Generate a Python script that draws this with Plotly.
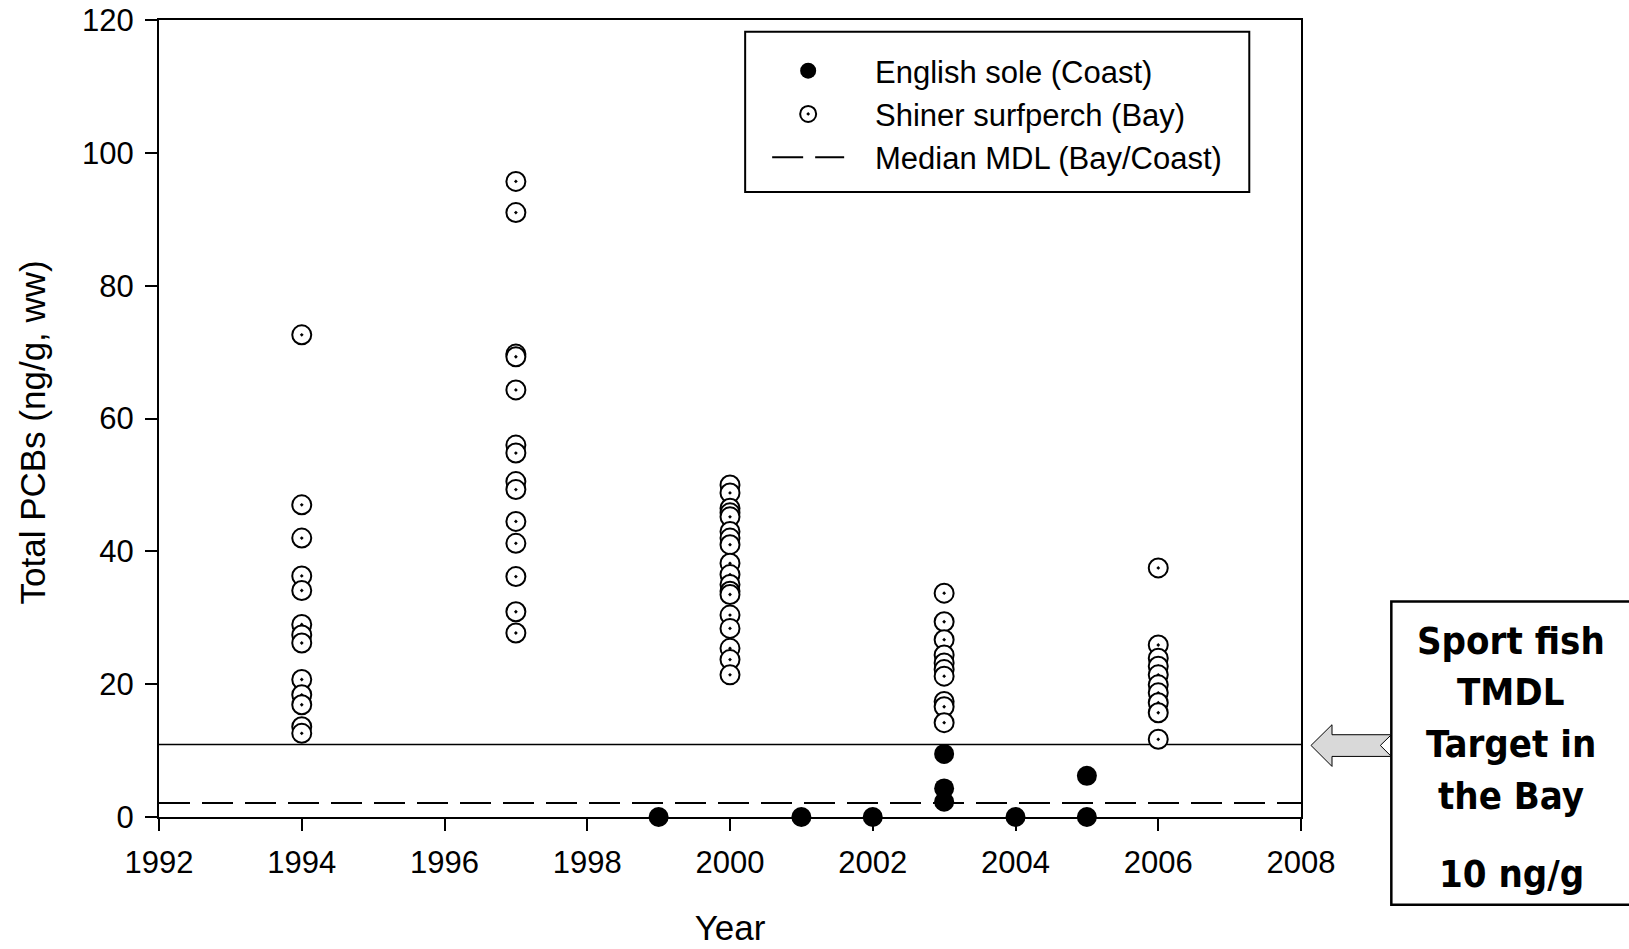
import plotly.graph_objects as go

# ---------------- data ----------------
bay_years = [1994, 1997, 2000, 2003, 2006]
bay_1994 = [72.6, 47.0, 42.0, 36.3, 34.1, 29.0, 27.4, 26.2, 20.7, 18.4, 16.9, 13.6, 12.6]
bay_1997 = [95.7, 91.0, 69.7, 69.3, 64.3, 56.0, 54.8, 50.5, 49.3, 44.5, 41.2, 36.2, 30.9, 27.7]
bay_2000 = [50.0, 48.8, 46.5, 45.8, 45.2, 43.0, 42.0, 41.0, 38.2, 36.5, 35.0, 34.0, 33.5,
            30.4, 28.4, 25.4, 23.7, 21.4]
bay_2003 = [33.7, 29.4, 26.7, 24.4, 23.2, 22.2, 21.2, 17.4, 16.6, 14.2]
bay_2006 = [37.5, 25.9, 23.9, 22.7, 21.4, 19.9, 18.7, 17.2, 15.7, 11.7]

coast_years = [1999, 2001, 2002, 2003, 2003, 2003, 2004, 2005, 2005]
coast_values = [0.0, 0.0, 0.0, 9.5, 4.3, 2.3, 0.0, 6.2, 0.0]

line_x = [1992, 2008]
median_mdl = 2.1
tmdl_line = 10.9

x_ticks = [1992, 1994, 1996, 1998, 2000, 2002, 2004, 2006, 2008]
y_ticks = [0, 20, 40, 60, 80, 100, 120]

box_lines = ["Sport fish", "TMDL", "Target in", "the Bay", "10 ng/g"]

# ---------------- layout geometry (screen pixels) ----------------
W, H = 1629, 949
L, R, T, B = 159, 1300.7, 20, 817.3


def px(x):
    return (x - L) / (R - L)


def py(y):
    return (B - y) / (B - T)


bay_x, bay_y = [], []
for yr, vals in zip(bay_years, [bay_1994, bay_1997, bay_2000, bay_2003, bay_2006]):
    bay_x += [yr] * len(vals)
    bay_y += vals

NB = "\u00a0" * 3

fig = go.Figure()

fig.add_trace(go.Scatter(
    x=line_x, y=[tmdl_line, tmdl_line], mode="lines",
    line=dict(color="black", width=1.5), showlegend=False, hoverinfo="skip"))

fig.add_trace(go.Scatter(
    x=coast_years, y=coast_values, mode="markers", name=NB + "English sole (Coast)",
    marker=dict(symbol="circle", size=20, color="black", line=dict(width=0)),
    cliponaxis=False))

fig.add_trace(go.Scatter(
    x=bay_x, y=bay_y, mode="markers", name=NB + "Shiner surfperch (Bay)",
    marker=dict(symbol="circle-dot", size=19, color="white",
                line=dict(color="black", width=2)),
    cliponaxis=False))

fig.add_trace(go.Scatter(
    x=line_x, y=[median_mdl, median_mdl], mode="lines", name=NB + "Median MDL (Bay/Coast)",
    line=dict(color="black", width=2, dash="31px,12px"), hoverinfo="skip"))

font_main = "Liberation Sans, Arial, sans-serif"

fig.update_layout(
    width=W, height=H,
    margin=dict(l=L, r=W - R, t=T, b=H - B, autoexpand=False),
    paper_bgcolor="white", plot_bgcolor="white",
    font=dict(family=font_main, size=31, color="black"),
    showlegend=True,
    legend=dict(
        x=px(767), y=py(44), xanchor="left", yanchor="top",
        borderwidth=0, bgcolor="rgba(0,0,0,0)",
        font=dict(family=font_main, size=31, color="black"),
        itemwidth=72, tracegroupgap=0,
    ),
    xaxis=dict(
        range=[1992, 2008], tickvals=x_ticks, ticktext=[str(v) for v in x_ticks],
        showgrid=False, zeroline=False, showline=True, linecolor="black", linewidth=2,
        mirror=True, ticks="outside", ticklen=12, tickwidth=2, tickcolor="black",
        ticklabelstandoff=5, automargin=False, ticklabeloverflow="allow",
        title=dict(text="Year", font=dict(size=35), standoff=36),
    ),
    yaxis=dict(
        range=[0, 120], tickvals=y_ticks,
        showgrid=False, zeroline=False, showline=True, linecolor="black", linewidth=2,
        mirror=True, ticks="outside", ticklen=12, tickwidth=2, tickcolor="black",
        ticklabelstandoff=5, automargin=False, ticklabeloverflow="allow",
    ),
)

# y-axis title (placed slightly below the axis centre, as in the original)
fig.add_annotation(x=px(33), y=py(432.7), xref="paper", yref="paper",
                   text="Total PCBs (ng/g, ww)", textangle=-90, showarrow=False,
                   xanchor="center", yanchor="middle",
                   font=dict(family=font_main, size=35, color="black"))

# legend frame
fig.add_shape(type="rect", xref="paper", yref="paper",
              x0=px(745), x1=px(1249), y0=py(192), y1=py(31.7),
              line=dict(color="black", width=2), layer="above")

# right-hand call-out box
fig.add_shape(type="rect", xref="paper", yref="paper",
              x0=px(1391), x1=px(1660), y0=py(905), y1=py(601.7),
              line=dict(color="black", width=2.5), fillcolor="white", layer="above")

arrow_pts = [(1310.7, 745.7), (1331.7, 725), (1331.7, 735), (1391, 735), (1380, 745.7),
             (1391, 756.7), (1331.7, 756.7), (1331.7, 766.7)]
path = "M " + " L ".join(f"{px(a):.5f},{py(b):.5f}" for a, b in arrow_pts) + " Z"
fig.add_shape(type="path", xref="paper", yref="paper", path=path,
              line=dict(color="black", width=1), fillcolor="#d9d9d9", layer="above")

box_font = "DejaVu Sans Condensed, DejaVu Sans, sans-serif"
for txt, yc in zip(box_lines, [641, 692, 744, 796, 874]):
    fig.add_annotation(x=px(1511), y=py(yc), xref="paper", yref="paper",
                       text=f"<b>{txt}</b>", showarrow=False, xanchor="center",
                       yanchor="middle", font=dict(family=box_font, size=38, color="black"))

# place the figure at the very top-left corner of the page
fig.write_html("out.html",
               config={"displayModeBar": False},
               post_script="document.body.style.margin='0';document.body.style.overflow='hidden';")
